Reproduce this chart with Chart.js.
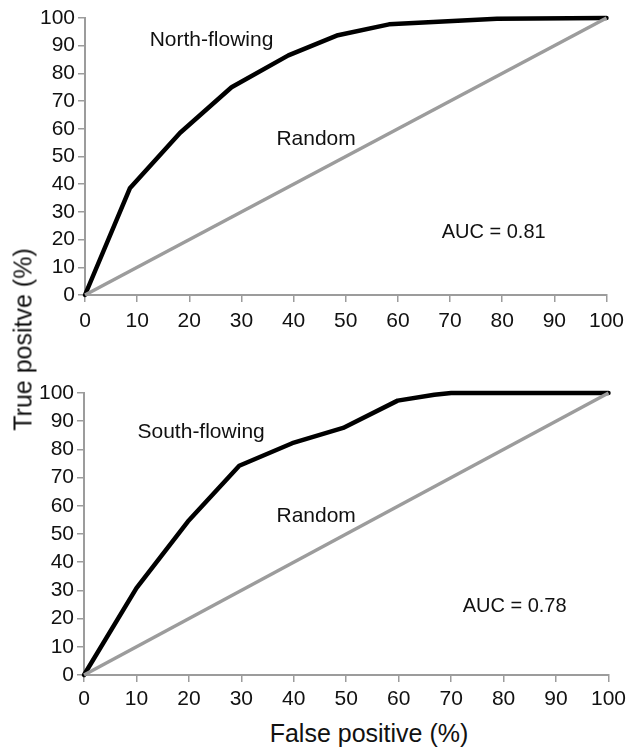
<!DOCTYPE html>
<html>
<head>
<meta charset="utf-8">
<script src="https://cdn.jsdelivr.net/npm/chart.js@4.4.0/dist/chart.umd.min.js"></script>
<style>
    html, body { margin: 0; padding: 0; background: #fff; }
    #wrap {
        position: relative;
        width: 631px;
        height: 751px;
        font-family: "Liberation Sans", Arial, Helvetica, sans-serif;
        color: #111;
    }
    canvas { position: absolute; left: 0; }
    #chartNorth { top: 0; }
    #chartSouth { top: 360px; }
    .axis-title {
        position: absolute;
        font-size: 25px;
        line-height: 25px;
        white-space: nowrap;
        text-align: center;
    }
    #xTitle { left: 169px; top: 721px; width: 400px; }
    #yTitle { left: -127px; top: 327px; width: 300px; transform: rotate(-90deg); }
</style>
</head>
<body>
<div id="wrap">
    <canvas id="chartNorth" width="631" height="335"></canvas>
    <canvas id="chartSouth" width="631" height="350"></canvas>
    <div class="axis-title" id="yTitle">True positve (%)</div>
    <div class="axis-title" id="xTitle">False positive (%)</div>
</div>
<script>
// tick labels (both axes, both panels)
const tickValues = [0, 10, 20, 30, 40, 50, 60, 70, 80, 90, 100];

// North-flowing ROC curve
const northFp = [0, 8.6, 18.2, 28.1, 39, 48.5, 58.3, 79, 100];
const northTp = [0, 38.5, 58.5, 75, 86.5, 93.8, 97.7, 99.7, 100];

// South-flowing ROC curve
const southFp = [0, 10, 19.8, 29.6, 39.7, 49.4, 59.8, 66.8, 70, 100];
const southTp = [0, 30.8, 54.4, 74.2, 82.2, 87.6, 97.3, 99.4, 100, 100];

// random classifier diagonal
const randomFp = [0, 100];
const randomTp = [0, 100];

(() => {
    const family = '"Liberation Sans", Arial, Helvetica, sans-serif';
    const ink = '#111';
    const axisGray = '#9c9c9c';
    const toPoints = (xs, ys) => xs.map((x, i) => ({ x, y: ys[i] }));

    // text labels inside the plot, positioned in data units
    const notesPlugin = {
        id: 'notes',
        afterDatasetsDraw(chart, args, opts) {
            const { ctx, scales } = chart;
            ctx.save();
            ctx.fillStyle = ink;
            ctx.textAlign = 'left';
            ctx.textBaseline = 'alphabetic';
            (opts.items || []).forEach((n) => {
                ctx.font = `${n.size}px ${family}`;
                ctx.fillText(n.text, scales.x.getPixelForValue(n.x), scales.y.getPixelForValue(n.y));
            });
            ctx.restore();
        }
    };

    const axis = (fit, pad) => ({
        type: 'linear',
        min: 0,
        max: 100,
        afterBuildTicks: (s) => { s.ticks = tickValues.map((v) => ({ value: v })); },
        afterFit: fit,
        grid: { drawOnChartArea: false, drawTicks: true, tickLength: 7, color: axisGray, lineWidth: 1.5 },
        border: { display: true, color: axisGray, width: 2 },
        ticks: { color: ink, font: { size: 21, family }, padding: pad, maxRotation: 0, autoSkip: false }
    });

    function makeChart(id, fp, tp, notes, box) {
        return new Chart(document.getElementById(id), {
            type: 'line',
            data: {
                datasets: [
                    {
                        data: toPoints(randomFp, randomTp),
                        borderColor: axisGray,
                        borderWidth: 3.5,
                        pointRadius: 0,
                        clip: false
                    },
                    {
                        data: toPoints(fp, tp),
                        borderColor: '#000',
                        borderWidth: 4.5,
                        borderJoinStyle: 'round',
                        borderCapStyle: 'round',
                        pointRadius: 0,
                        tension: 0,
                        clip: false
                    }
                ]
            },
            options: {
                responsive: false,
                animation: false,
                events: [],
                layout: { padding: { top: box.top, right: box.right, left: 0, bottom: 0 } },
                plugins: {
                    legend: { display: false },
                    tooltip: { enabled: false },
                    notes: { items: notes }
                },
                scales: {
                    x: axis((s) => { s.height = box.xHeight; }, box.xPad),
                    y: axis((s) => { s.width = box.yWidth; }, 3)
                }
            },
            plugins: [notesPlugin]
        });
    }

    makeChart('chartNorth', northFp, northTp, [
        { text: 'North-flowing', x: 12.4, y: 89.9, size: 21 },
        { text: 'Random', x: 36.7, y: 54.2, size: 21 },
        { text: 'AUC = 0.81', x: 68.4, y: 20.6, size: 20 }
    ], { top: 18, right: 20, xHeight: 40, yWidth: 85, xPad: 7 });

    makeChart('chartSouth', southFp, southTp, [
        { text: 'South-flowing', x: 10.2, y: 84.0, size: 21 },
        { text: 'Random', x: 36.7, y: 54.3, size: 21 },
        { text: 'AUC = 0.78', x: 72.2, y: 22.3, size: 20 }
    ], { top: 33, right: 19, xHeight: 35, yWidth: 84, xPad: 5 });
})();
</script>
</body>
</html>
